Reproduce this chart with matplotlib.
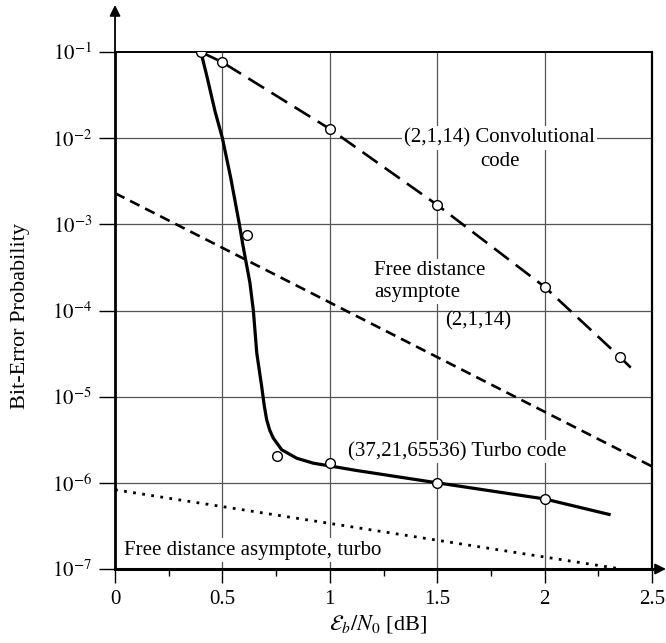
import matplotlib
matplotlib.use('Agg')
import matplotlib.pyplot as plt
from matplotlib.ticker import FixedLocator, NullLocator

plt.rcParams['font.family'] = ['Liberation Serif', 'DejaVu Serif']
plt.rcParams['mathtext.fontset'] = 'stix'
plt.rcParams['font.size'] = 15

# (37,21,65536) turbo code, solid curve
turbo_x = [0.40, 0.43, 0.466, 0.50, 0.539, 0.579, 0.595, 0.628, 0.644, 0.66, 0.683, 0.695, 0.706,
           0.72, 0.737, 0.776, 0.846, 0.923, 1.0, 1.125, 1.5, 2.0, 2.30]
turbo_y = [1e-1, 4.95e-2, 2.03e-2, 1e-2, 3.43e-3, 1e-3, 5.8e-4, 2.1e-4, 1e-4, 3.2e-5, 1.3e-5, 7.8e-6, 5.4e-6,
           4.1e-6, 3.3e-6, 2.42e-6, 1.93e-6, 1.69e-6, 1.57e-6, 1.39e-6, 1.0e-6, 6.5e-7, 4.3e-7]
# simulated turbo points (circles)
turbo_pts_x = [0.40, 0.613, 0.753, 1.0, 1.5, 2.0]
turbo_pts_y = [1e-1, 7.5e-4, 2.07e-6, 1.69e-6, 1.0e-6, 6.5e-7]

# (2,1,14) convolutional code, long dashes
conv_x = [0.40, 0.5, 1.0, 1.5, 2.0, 2.35, 2.42]
conv_y = [1e-1, 7.6e-2, 1.28e-2, 1.68e-3, 1.88e-4, 2.9e-5, 1.95e-5]
conv_pts_x = [0.5, 1.0, 1.5, 2.0, 2.35]
conv_pts_y = [7.6e-2, 1.28e-2, 1.68e-3, 1.88e-4, 2.9e-5]

# free distance asymptotes
free_conv_x = [0.0, 2.5]
free_conv_y = [2.3e-3, 1.55e-6]
free_turbo_x = [0.0, 2.356]
free_turbo_y = [8.3e-7, 1e-7]

x_ticks = [0, 0.5, 1, 1.5, 2, 2.5]
x_tick_labels = ['0', '0.5', '1', '1.5', '2', '2.5']
x_minor = [0.25, 0.75, 1.25, 1.75, 2.25]
y_ticks = [1e-7, 1e-6, 1e-5, 1e-4, 1e-3, 1e-2, 1e-1]
y_tick_labels = [r'$10^{-7}$', r'$10^{-6}$', r'$10^{-5}$', r'$10^{-4}$',
                 r'$10^{-3}$', r'$10^{-2}$', r'$10^{-1}$']

fig = plt.figure(figsize=(6.66, 6.43), dpi=100)
ax = fig.add_axes([0.1727, 0.1151, 0.8063, 0.804])
ax.set_yscale('log')
ax.set_xlim(0, 2.5)
ax.set_ylim(1e-7, 1e-1)

grid_kw = dict(color='#555555', lw=0.9, zorder=1)
for yv in y_ticks[1:-1]:
    ax.axhline(yv, **grid_kw)
for xv in x_ticks[1:-1]:
    ax.axvline(xv, **grid_kw)

ax.plot(free_conv_x, free_conv_y, color='black', lw=1.9, dashes=(4, 2.4), zorder=3)
ax.plot(free_turbo_x, free_turbo_y, color='black', lw=2.0, dashes=(1, 2.3), zorder=3)
ax.plot(conv_x, conv_y, color='black', lw=1.9, dashes=(7, 3.3), zorder=3)
ax.plot(turbo_x, turbo_y, color='black', lw=2.3, solid_joinstyle='round', zorder=3)
ax.plot(conv_pts_x, conv_pts_y, 'o', ms=7, mfc='white', mec='black', mew=1.0, zorder=4)
ax.plot(turbo_pts_x, turbo_pts_y, 'o', ms=7, mfc='white', mec='black', mew=1.0, zorder=4)

box = dict(facecolor='white', edgecolor='none', pad=1.5)
ax.text(1.79, 1e-2, '(2,1,14) Convolutional', ha='center', va='center', bbox=box, zorder=2)
ax.text(1.79, 5.4e-3, 'code', ha='center', va='center', zorder=2)
ax.text(1.207, 2.15e-4, 'Free distance\nasymptote', ha='left', va='center',
        linespacing=1.2, bbox=box, zorder=2)
ax.text(1.536, 7.6e-5, '(2,1,14)', ha='left', va='center', zorder=2)
ax.text(1.085, 2.31e-6, '(37,21,65536) Turbo code', ha='left', va='center', bbox=box, zorder=2)
ax.text(0.042, 1.66e-7, 'Free distance asymptote, turbo', ha='left', va='center', bbox=box, zorder=2)

ax.xaxis.set_major_locator(FixedLocator(x_ticks))
ax.set_xticklabels(x_tick_labels)
ax.xaxis.set_minor_locator(FixedLocator(x_minor))
ax.yaxis.set_major_locator(FixedLocator(y_ticks))
ax.set_yticklabels(y_tick_labels)
ax.yaxis.set_minor_locator(NullLocator())
ax.tick_params(axis='x', which='major', direction='out', length=10, width=1.0, pad=5)
ax.tick_params(axis='x', which='minor', direction='out', length=5, width=1.0)
ax.tick_params(axis='y', which='major', direction='out', length=11.5, width=1.0, pad=5)

ax.spines['left'].set_linewidth(2.0)
ax.spines['bottom'].set_linewidth(2.2)
ax.spines['top'].set_linewidth(1.4)
ax.spines['right'].set_linewidth(1.6)

ax.set_xlabel(r'$\mathcal{E}_b/N_0$ [dB]', fontsize=16)
ax.set_ylabel('Bit-Error Probability', fontsize=16)
ax.xaxis.set_label_coords(0.49, -0.085)
ax.yaxis.set_label_coords(-0.158, 0.49)

# axis arrows
arr = dict(arrowstyle='-|>', lw=1.3, color='black', mutation_scale=16, shrinkA=0, shrinkB=0)
ax.annotate('', xy=(0, 1.091), xytext=(0, 1), xycoords='axes fraction',
            arrowprops=arr, annotation_clip=False)
ax.annotate('', xy=(1.026, 0), xytext=(1, 0), xycoords='axes fraction',
            arrowprops=arr, annotation_clip=False)

fig.savefig('out.png', dpi=100)
